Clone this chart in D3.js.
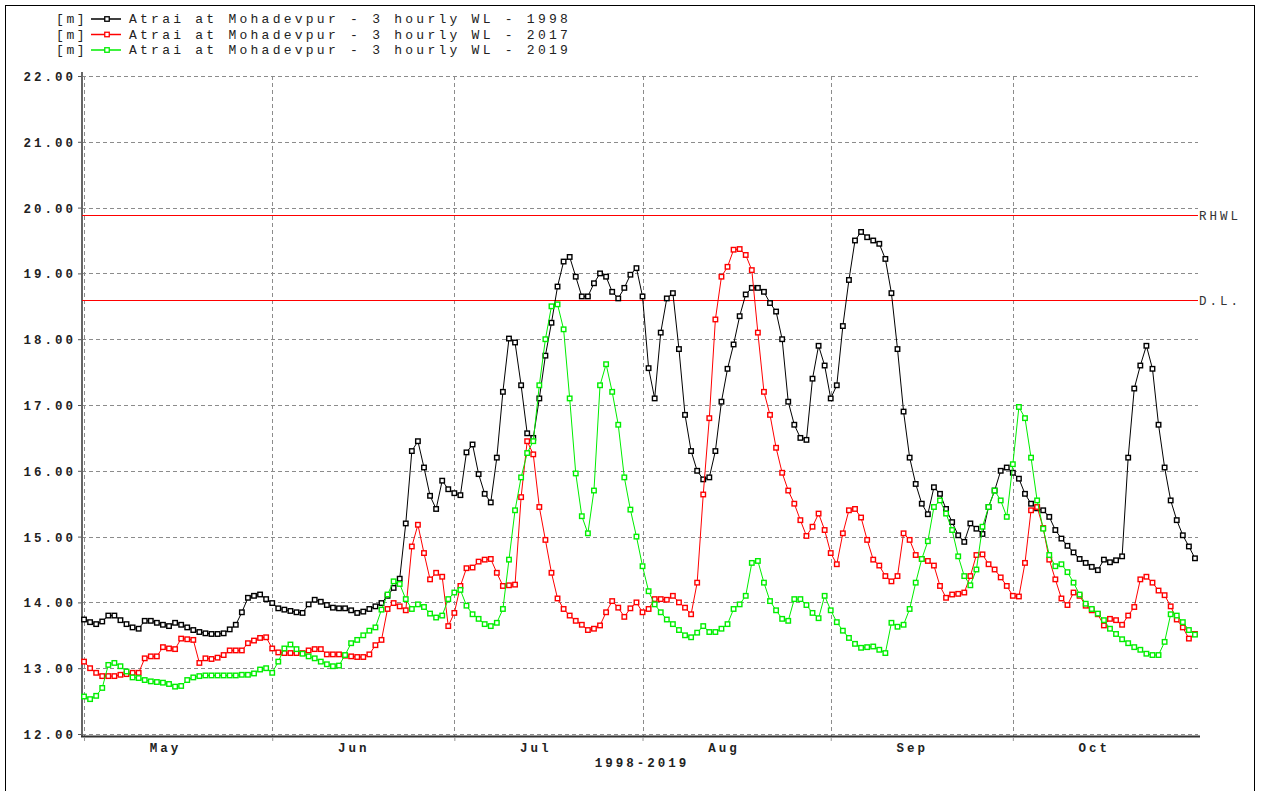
<!DOCTYPE html>
<html>
<head>
<meta charset="utf-8">
<script src="https://cdn.jsdelivr.net/npm/d3@7"></script>
<style>
  body { margin: 0; background: #fff; }
  svg { display: block; }
</style>
</head>
<body>
<svg id="chart" width="1264" height="791"></svg>
<script>
// Daily water levels [m], first value on 1 May, one value per day up to 31 Oct
const startDate = new Date(1998, 4, 1);

const wl1998 = [
  13.74, 13.70, 13.67, 13.71, 13.80, 13.80, 13.73, 13.67, 13.62, 13.60,
  13.72, 13.72, 13.69, 13.66, 13.64, 13.69, 13.66, 13.62, 13.58, 13.55,
  13.53, 13.52, 13.52, 13.53, 13.59, 13.66, 13.85, 14.07, 14.10, 14.12,
  14.05, 13.99, 13.91, 13.89, 13.87, 13.85, 13.84, 13.97, 14.04, 14.01,
  13.96, 13.92, 13.91, 13.91, 13.88, 13.84, 13.86, 13.90, 13.94, 13.99,
  14.10, 14.22, 14.36, 15.20, 16.30, 16.45, 16.05, 15.62, 15.42, 15.85,
  15.72, 15.66, 15.63, 16.28, 16.40, 15.95, 15.65, 15.52, 16.20, 17.20,
  18.01, 17.95, 17.30, 16.57, 16.50, 17.10, 17.75, 18.25, 18.80, 19.18,
  19.25, 18.95, 18.65, 18.65, 18.85, 19.00, 18.95, 18.72, 18.62, 18.78,
  18.98, 19.08, 18.65, 17.56, 17.10, 18.10, 18.62, 18.70, 17.85, 16.85,
  16.30, 16.00, 15.87, 15.90, 16.30, 17.05, 17.55, 17.92, 18.35, 18.68,
  18.78, 18.78, 18.72, 18.55, 18.42, 18.00, 17.05, 16.70, 16.50, 16.47,
  17.40, 17.90, 17.60, 17.10, 17.30, 18.20, 18.90, 19.50, 19.63, 19.55,
  19.50, 19.45, 19.22, 18.70, 17.85, 16.90, 16.20, 15.80, 15.50, 15.34,
  15.75, 15.65, 15.42, 15.22, 15.02, 14.92, 15.20, 15.12, 15.04, 15.45,
  15.70, 16.00, 16.05, 15.97, 15.88, 15.65, 15.50, 15.43, 15.40, 15.30,
  15.10, 14.97, 14.86, 14.76, 14.66, 14.60, 14.54, 14.49, 14.65, 14.61,
  14.64, 14.70, 16.20, 17.25, 17.60, 17.90, 17.55, 16.70, 16.05, 15.55,
  15.25, 15.02, 14.85, 14.67
];

const wl2017 = [
  13.10, 13.00, 12.93, 12.88, 12.88, 12.88, 12.90, 12.91, 12.93, 12.93,
  13.15, 13.18, 13.18, 13.32, 13.30, 13.29, 13.45, 13.44, 13.43, 13.08,
  13.15, 13.14, 13.16, 13.20, 13.27, 13.27, 13.27, 13.38, 13.42, 13.46,
  13.47, 13.30, 13.24, 13.23, 13.23, 13.23, 13.23, 13.27, 13.29, 13.29,
  13.21, 13.21, 13.21, 13.19, 13.18, 13.17, 13.17, 13.21, 13.35, 13.43,
  13.90, 13.99, 13.94, 13.88, 14.85, 15.18, 14.75, 14.35, 14.45, 14.39,
  13.64, 13.84, 14.25, 14.52, 14.53, 14.62, 14.65, 14.66, 14.45, 14.25,
  14.26, 14.27, 15.60, 16.45, 16.25, 15.45, 14.95, 14.45, 14.06, 13.90,
  13.80, 13.72, 13.66, 13.58, 13.60, 13.65, 13.85, 14.02, 13.92, 13.78,
  13.91, 14.00, 13.85, 13.90, 14.05, 14.05, 14.04, 14.10, 14.00, 13.92,
  13.82, 14.30, 15.64, 16.80, 18.30, 18.95, 19.10, 19.36, 19.37, 19.28,
  19.05, 18.10, 17.20, 16.85, 16.35, 15.97, 15.70, 15.50, 15.25, 15.01,
  15.15, 15.35, 15.10, 14.75, 14.58, 15.05, 15.40, 15.42, 15.29, 14.95,
  14.65, 14.56, 14.40, 14.32, 14.40, 15.05, 14.95, 14.72, 14.66, 14.63,
  14.56, 14.25, 14.07, 14.12, 14.13, 14.15, 14.40, 14.72, 14.73, 14.58,
  14.50, 14.38, 14.25, 14.10, 14.09, 14.60, 15.40, 15.45, 15.13, 14.65,
  14.35, 14.06, 13.96, 14.15, 14.10, 13.95, 13.88, 13.82, 13.65, 13.75,
  13.73, 13.66, 13.80, 13.93, 14.35, 14.39, 14.30, 14.18, 14.11, 13.94,
  13.74, 13.62, 13.45, 13.52
];

const wl2019 = [
  12.57, 12.53, 12.58, 12.70, 13.05, 13.08, 13.03, 12.95, 12.86, 12.85,
  12.82, 12.80, 12.79, 12.78, 12.76, 12.72, 12.73, 12.82, 12.86, 12.88,
  12.89, 12.89, 12.89, 12.89, 12.89, 12.89, 12.90, 12.90, 12.92, 12.98,
  13.00, 12.93, 13.10, 13.30, 13.36, 13.29, 13.22, 13.18, 13.15, 13.10,
  13.06, 13.03, 13.04, 13.20, 13.38, 13.43, 13.50, 13.57, 13.62, 13.89,
  14.12, 14.32, 14.28, 14.05, 13.90, 13.97, 13.93, 13.83, 13.77, 13.80,
  14.05, 14.15, 14.19, 13.95, 13.82, 13.75, 13.67, 13.64, 13.69, 13.90,
  14.65, 15.40, 15.90, 16.27, 16.45, 17.30, 18.00, 18.50, 18.53, 18.15,
  17.10, 15.96, 15.31, 15.05, 15.70, 17.30, 17.62, 17.20, 16.70, 15.90,
  15.41, 15.00, 14.55, 14.17, 13.97, 13.85, 13.74, 13.67, 13.58, 13.50,
  13.47, 13.54, 13.64, 13.55, 13.55, 13.60, 13.67, 13.90, 13.97, 14.10,
  14.60, 14.63, 14.30, 14.02, 13.88, 13.75, 13.72, 14.05, 14.05, 13.96,
  13.84, 13.76, 14.10, 13.88, 13.70, 13.57, 13.46, 13.37, 13.31, 13.32,
  13.33, 13.28, 13.23, 13.69, 13.63, 13.66, 13.90, 14.30, 14.66, 14.93,
  15.45, 15.55, 15.35, 15.10, 14.70, 14.40, 14.26, 14.50, 15.15, 15.45,
  15.70, 15.55, 15.30, 16.10, 16.97, 16.80, 16.20, 15.55, 15.12, 14.72,
  14.55, 14.58, 14.46, 14.30, 14.12, 13.98, 13.90, 13.83, 13.73, 13.60,
  13.52, 13.44, 13.38, 13.32, 13.28, 13.22, 13.20, 13.20, 13.40, 13.82,
  13.80, 13.70, 13.58, 13.51
];

const seriesNames = [
  "Atrai at Mohadevpur - 3 hourly WL - 1998",
  "Atrai at Mohadevpur - 3 hourly WL - 2017",
  "Atrai at Mohadevpur - 3 hourly WL - 2019"
];
const unitLabel = "[m]";

const refLevels = [19.89, 18.60];
const refLabels = ["RHWL", "D.L."];

const yTicks = [12, 13, 14, 15, 16, 17, 18, 19, 20, 21, 22];
const monthStarts = ["1998-05-01", "1998-06-01", "1998-07-01", "1998-08-01", "1998-09-01", "1998-10-01"];
const xTitle = "1998-2019";

// ---------------------------------------------------------------------------
const svg = d3.select("#chart");
const monoFont = "'Liberation Mono', 'DejaVu Sans Mono', monospace";
const parse = d3.timeParse("%Y-%m-%d");
const monthDates = monthStarts.map(parse);

const plot = { left: 82, right: 1198, top: 76, bottom: 734 };

const x = d3.scaleTime()
  .domain([new Date(1998, 3, 30, 16), new Date(1998, 9, 31, 12)])
  .range([plot.left, plot.right]);
const y = d3.scaleLinear()
  .domain([12, 22])
  .range([plot.bottom, plot.top]);

// outer frame
svg.append("rect")
  .attr("x", 5.5).attr("y", 5.5)
  .attr("width", 1249).attr("height", 820)
  .attr("fill", "none").attr("stroke", "#000").attr("stroke-width", 1);

// grid
const grid = svg.append("g").attr("stroke", "#8c8c8c").attr("stroke-width", 1)
  .attr("stroke-dasharray", "4,3");
grid.selectAll("line.h").data(yTicks).join("line")
  .attr("x1", plot.left).attr("x2", plot.right)
  .attr("y1", d => Math.round(y(d)) + 0.5).attr("y2", d => Math.round(y(d)) + 0.5);
grid.selectAll("line.v").data(monthDates).join("line")
  .attr("x1", d => Math.round(x(d)) + 0.5).attr("x2", d => Math.round(x(d)) + 0.5)
  .attr("y1", plot.top).attr("y2", plot.bottom + 2);

// y axis
const yAxis = svg.append("g")
  .attr("transform", `translate(${plot.left},0)`)
  .call(d3.axisLeft(y).tickValues(yTicks).tickFormat(d3.format(".2f")).tickSize(4).tickPadding(2));
yAxis.select(".domain").remove();
yAxis.selectAll("line").attr("stroke", "#555");
yAxis.selectAll("text")
  .attr("font-family", monoFont).attr("font-weight", "bold")
  .attr("font-size", 12.5).attr("letter-spacing", 3.0)
  .attr("fill", "#222").attr("dy", "0.36em");

// axis lines
svg.append("line")
  .attr("x1", plot.left).attr("x2", plot.left)
  .attr("y1", plot.top - 4).attr("y2", plot.bottom + 3)
  .attr("stroke", "#666").attr("stroke-width", 2);
svg.append("line")
  .attr("x1", plot.left - 1).attr("x2", plot.right + 2)
  .attr("y1", plot.bottom + 2.5).attr("y2", plot.bottom + 2.5)
  .attr("stroke", "#333").attr("stroke-width", 2);

// month boundary ticks
const xTicks = svg.append("g")
  .attr("transform", `translate(0,${plot.bottom + 3})`)
  .call(d3.axisBottom(x).tickValues(monthDates).tickSize(4).tickFormat(""));
xTicks.select(".domain").remove();
xTicks.selectAll("line").attr("stroke", "#999");

// month labels, centred in each month
const monthMids = monthDates.map(d => d3.timeDay.offset(d, 13));
const xLabels = svg.append("g")
  .attr("transform", `translate(0,${plot.bottom + 2})`)
  .call(d3.axisBottom(x).tickValues(monthMids).tickSize(0).tickPadding(7)
    .tickFormat(d3.timeFormat("%b")));
xLabels.select(".domain").remove();
xLabels.selectAll("text")
  .attr("font-family", monoFont).attr("font-weight", "bold")
  .attr("font-size", 12.5).attr("letter-spacing", 3.0).attr("fill", "#222")
  .attr("dx", 2);

svg.append("text")
  .attr("x", (plot.left + plot.right) / 2 + 2).attr("y", 767)
  .attr("text-anchor", "middle")
  .attr("font-family", monoFont).attr("font-weight", "bold")
  .attr("font-size", 12.5).attr("letter-spacing", 3.0).attr("fill", "#222")
  .text(xTitle);

// reference levels
refLevels.forEach((lv, i) => {
  const yy = Math.round(y(lv)) + 0.5;
  svg.append("line")
    .attr("x1", plot.left).attr("x2", plot.right)
    .attr("y1", yy).attr("y2", yy)
    .attr("stroke", "#ff0000").attr("stroke-width", 1.2);
  svg.append("text")
    .attr("x", plot.right + 1).attr("y", yy + 4)
    .attr("font-family", monoFont).attr("font-size", 12.5)
    .attr("letter-spacing", 3.0).attr("fill", "#333")
    .text(refLabels[i]);
});

// series
const seriesColors = ["#000000", "#ff0000", "#00ee00"];
const allSeries = [wl1998, wl2017, wl2019].map((vals, i) => ({
  name: seriesNames[i],
  color: seriesColors[i],
  points: vals.map((v, j) => ({ date: d3.timeDay.offset(startDate, j), value: v }))
}));

const line = d3.line().x(d => x(d.date)).y(d => y(d.value));
const ms = 4.5;

allSeries.forEach(s => {
  const g = svg.append("g");
  g.append("path")
    .attr("d", line(s.points))
    .attr("fill", "none").attr("stroke", s.color).attr("stroke-width", 1);
  g.selectAll("rect").data(s.points).join("rect")
    .attr("x", d => x(d.date) - ms / 2).attr("y", d => y(d.value) - ms / 2)
    .attr("width", ms).attr("height", ms)
    .attr("fill", "#fff").attr("stroke", s.color).attr("stroke-width", 1.4);
});

// legend
const legend = svg.append("g");
allSeries.forEach((s, i) => {
  const yy = 23 + i * 15.5;
  legend.append("text")
    .attr("x", 56).attr("y", yy)
    .attr("font-family", monoFont).attr("font-size", 13)
    .attr("letter-spacing", 2.6).attr("fill", "#222")
    .text(unitLabel);
  legend.append("line")
    .attr("x1", 91).attr("x2", 121).attr("y1", yy - 4).attr("y2", yy - 4)
    .attr("stroke", s.color).attr("stroke-width", 1.5);
  legend.append("rect")
    .attr("x", 107 - ms / 2).attr("y", yy - 4 - ms / 2)
    .attr("width", ms).attr("height", ms)
    .attr("fill", "#fff").attr("stroke", s.color).attr("stroke-width", 1.3);
  legend.append("text")
    .attr("x", 129).attr("y", yy)
    .attr("font-family", monoFont).attr("font-size", 13)
    .attr("letter-spacing", 3.25).attr("fill", "#222")
    .text(s.name);
});
</script>
</body>
</html>
